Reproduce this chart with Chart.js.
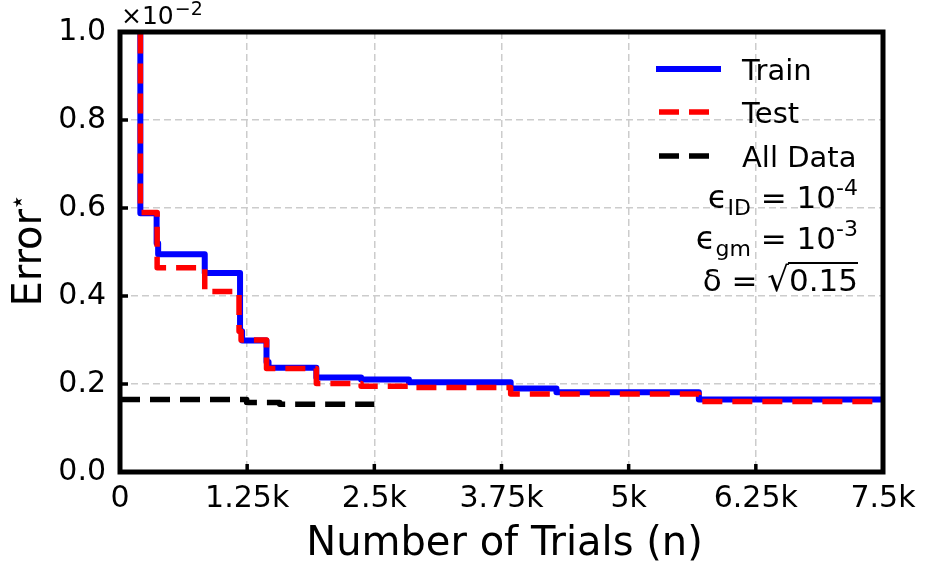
<!DOCTYPE html>
<html>
<head>
<meta charset="utf-8">
<script src="https://cdn.jsdelivr.net/npm/chart.js@4.4.1/dist/chart.umd.min.js"></script>
<style>
  html, body { margin: 0; padding: 0; background: #fff; }
  #wrap { width: 925px; height: 561px; }
</style>
</head>
<body>
<div id="wrap"><canvas id="errChart" width="925" height="561"></canvas></div>
<script>
// tick values and labels
const xTicks = [0, 1250, 2500, 3750, 5000, 6250, 7500];
const xTickLabels = ['0', '1.25k', '2.5k', '3.75k', '5k', '6.25k', '7.5k'];
const yTicks = [0, 0.2, 0.4, 0.6, 0.8, 1.0];

// best error so far (x 1e-2)
const trainX = [196, 200, 360, 375, 833, 1180, 1200, 1440, 1460, 1930, 2370, 2840, 3840, 4290, 5690, 7500];
const trainY = [1.2, 0.588, 0.52, 0.495, 0.452, 0.32, 0.299, 0.25, 0.237, 0.215, 0.21, 0.204, 0.19, 0.181, 0.165, 0.165];
const testX = [196, 200, 365, 833, 1170, 1190, 1440, 1930, 2370, 2840, 3840, 5690, 7500];
const testY = [1.2, 0.59, 0.464, 0.41, 0.32, 0.3, 0.235, 0.201, 0.195, 0.192, 0.177, 0.16, 0.16];
const allX = [0, 1245, 1570, 2500];
const allY = [0.165, 0.158, 0.154, 0.154];

const FONT = "'DejaVu Sans', sans-serif";

function pts(xs, ys) {
    return xs.map((x, i) => ({ x: x, y: ys[i] }));
}

const decorations = {
    id: 'decorations',
    afterDraw(chart) {
        const ctx = chart.ctx;
        const a = chart.chartArea;
        const xs = chart.scales.x, ys = chart.scales.y;
        ctx.save();

        // inward tick marks
        ctx.strokeStyle = '#000';
        ctx.lineWidth = 3.5;
        ctx.beginPath();
        xTicks.forEach(v => {
            const px = xs.getPixelForValue(v);
            ctx.moveTo(px, a.bottom);
            ctx.lineTo(px, a.bottom - 8);
        });
        yTicks.forEach(v => {
            const py = ys.getPixelForValue(v);
            ctx.moveTo(a.left, py);
            ctx.lineTo(a.left + 8, py);
        });
        ctx.stroke();

        // frame
        ctx.lineWidth = 5;
        ctx.strokeRect(a.left, a.top, a.right - a.left, a.bottom - a.top);

        // legend
        const legend = [
            { label: 'Train', color: '#0000ff', dash: [], y: 69, x1: 656, x2: 721 },
            { label: 'Test', color: '#ff0000', dash: [20, 10], y: 112, x1: 659, x2: 710 },
            { label: 'All Data', color: '#000000', dash: [20, 10], y: 156, x1: 659, x2: 710 }
        ];
        legend.forEach(item => {
            ctx.beginPath();
            ctx.setLineDash(item.dash);
            ctx.lineWidth = item.dash.length ? 5.5 : 6;
            ctx.strokeStyle = item.color;
            ctx.lineCap = 'butt';
            ctx.moveTo(item.x1, item.y);
            ctx.lineTo(item.x2, item.y);
            ctx.stroke();
            ctx.setLineDash([]);
            ctx.fillStyle = '#000';
            ctx.font = '29px ' + FONT;
            ctx.textAlign = 'left';
            ctx.textBaseline = 'alphabetic';
            ctx.fillText(item.label, 742, item.y + 11);
        });

        // parameter annotations, right aligned
        function richLine(parts, right, base) {
            let w = 0;
            parts.forEach(p => { ctx.font = p.size + 'px ' + FONT; p.w = ctx.measureText(p.t).width; w += p.w; });
            let x = right - w;
            ctx.textAlign = 'left';
            parts.forEach(p => {
                ctx.font = p.size + 'px ' + FONT;
                ctx.fillText(p.t, x, base + (p.dy || 0));
                p.x = x;
                x += p.w;
            });
            return parts;
        }
        ctx.fillStyle = '#000';
        richLine([
            { t: '\u03F5', size: 32 }, { t: 'ID', size: 22, dy: 7 },
            { t: ' = 10', size: 31 }, { t: '-4', size: 22, dy: -13 }
        ], 858, 208);
        richLine([
            { t: '\u03F5', size: 32 }, { t: 'gm', size: 22, dy: 7 },
            { t: ' = 10', size: 31 }, { t: '-3', size: 22, dy: -13 }
        ], 858, 249);
        const sq = richLine([
            { t: '\u03B4', size: 31 }, { t: ' = ', size: 31 },
            { t: '\u221A', size: 34 }, { t: '0.15', size: 31 }
        ], 858, 291);
        ctx.lineWidth = 2;
        ctx.strokeStyle = '#000';
        ctx.beginPath();
        ctx.moveTo(sq[3].x - 1, 263);
        ctx.lineTo(sq[3].x + sq[3].w, 263);
        ctx.stroke();

        // offset text above y axis
        ctx.font = '25px ' + FONT;
        ctx.textAlign = 'left';
        ctx.fillText('\u00D710', 121, 24);
        const wTen = ctx.measureText('\u00D710').width;
        ctx.font = '19px ' + FONT;
        ctx.fillText('\u22122', 121 + wTen + 1, 15);

        // axis titles
        ctx.font = '40px ' + FONT;
        ctx.textAlign = 'center';
        ctx.fillText('Number of Trials (n)', (a.left + a.right) / 2 + 3, 555);

        ctx.save();
        ctx.translate(41, (a.top + a.bottom) / 2);
        ctx.rotate(-Math.PI / 2);
        ctx.font = '40px ' + FONT;
        const wErr = ctx.measureText('Error').width;
        ctx.font = '13px ' + FONT;
        const wStar = ctx.measureText('\u2605').width;
        const x0 = -(wErr + wStar) / 2;
        ctx.textAlign = 'left';
        ctx.font = '40px ' + FONT;
        ctx.fillText('Error', x0, 0);
        ctx.font = '13px ' + FONT;
        ctx.fillText('\u2605', x0 + wErr + 1, -19);
        ctx.restore();

        ctx.restore();
    }
};

const ctx = document.getElementById('errChart').getContext('2d');
const errChart = new Chart(ctx, {
    type: 'scatter',
    data: {
        datasets: [
            {
                label: 'Train',
                data: pts(trainX, trainY),
                showLine: true,
                stepped: 'before',
                borderColor: '#0000ff',
                backgroundColor: '#0000ff',
                borderWidth: 6,
                borderJoinStyle: 'round',
                pointRadius: 0,
                order: 3
            },
            {
                label: 'Test',
                data: pts(testX, testY),
                showLine: true,
                stepped: 'before',
                borderColor: '#ff0000',
                backgroundColor: '#ff0000',
                borderWidth: 5.5,
                borderDash: [20, 10],
                borderJoinStyle: 'round',
                pointRadius: 0,
                order: 2
            },
            {
                label: 'All Data',
                data: pts(allX, allY),
                showLine: true,
                stepped: 'before',
                borderColor: '#000000',
                backgroundColor: '#000000',
                borderWidth: 5.5,
                borderDash: [20, 10],
                borderJoinStyle: 'round',
                pointRadius: 0,
                order: 1
            }
        ]
    },
    options: {
        responsive: false,
        devicePixelRatio: 1,
        animation: false,
        layout: {
            padding: { left: 0, top: 31, right: 42, bottom: 0 }
        },
        plugins: {
            legend: { display: false },
            tooltip: { enabled: false }
        },
        scales: {
            x: {
                type: 'linear',
                min: 0,
                max: 7500,
                afterBuildTicks: s => { s.ticks = xTicks.map(v => ({ value: v })); },
                afterFit: s => { s.height = 89; },
                ticks: {
                    callback: v => xTickLabels[xTicks.indexOf(v)],
                    color: '#000',
                    font: { family: FONT, size: 30 },
                    padding: 9,
                    maxRotation: 0,
                    autoSkip: false
                },
                grid: {
                    color: '#cccccc',
                    lineWidth: 1.5,
                    drawTicks: false
                },
                border: { display: false, dash: [7, 4] }
            },
            y: {
                type: 'linear',
                min: 0,
                max: 1.0,
                afterBuildTicks: s => { s.ticks = yTicks.map(v => ({ value: v })); },
                afterFit: s => { s.width = 120; },
                ticks: {
                    callback: v => v.toFixed(1),
                    color: '#000',
                    font: { family: FONT, size: 30 },
                    padding: 14
                },
                grid: {
                    color: '#cccccc',
                    lineWidth: 1.5,
                    drawTicks: false
                },
                border: { display: false, dash: [7, 4] }
            }
        }
    },
    plugins: [decorations]
});
</script>
</body>
</html>
